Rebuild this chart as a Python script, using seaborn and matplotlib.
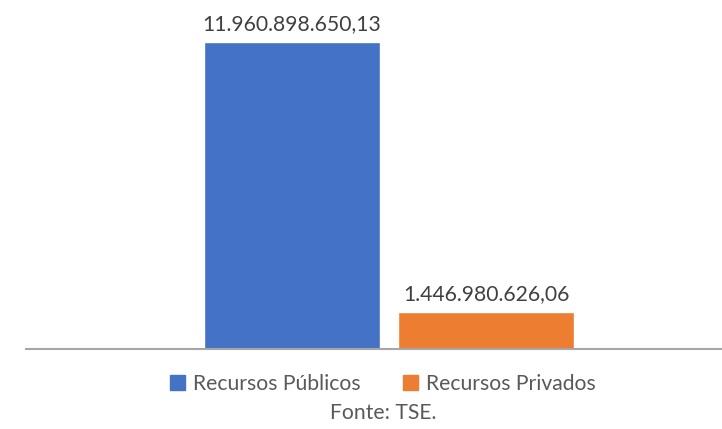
import matplotlib
matplotlib.use("Agg")
import matplotlib.pyplot as plt
from matplotlib.patches import Patch
import seaborn as sns
import pandas as pd

series = ["Recursos Públicos", "Recursos Privados"]
values = [11960898650.13, 1446980626.06]
colors = ["#4472C4", "#ED7D31"]
source = "Fonte: TSE."

def fmt_br(v):
    s = f"{v:,.2f}"
    return s.replace(",", "X").replace(".", ",").replace("X", ".")

sns.set_theme(style="white")
plt.rcParams['font.family'] = ['Lato', 'DejaVu Sans']

W, H = 722, 429
fig = plt.figure(figsize=(W/100, H/100), dpi=100)
ax_left, ax_right = 26, 722
ax_bottom, ax_top = 349, 20
ax = fig.add_axes([ax_left/W, 1 - ax_bottom/H, (ax_right-ax_left)/W, (ax_bottom-ax_top)/H])

df = pd.DataFrame({"serie": series, "valor": values})
sns.barplot(data=df, x="serie", y="valor", hue="serie", palette=colors,
            dodge=False, width=0.907, legend=False, ax=ax, saturation=1)

ymax = values[0] * (ax_bottom - ax_top) / (ax_bottom - 42)
ax.set_ylim(0, ymax)
c0, c1 = 292, 486
unit = c1 - c0
ax.set_xlim(-(c0 - ax_left)/unit, (ax_right - c0)/unit)

for i, v in enumerate(values):
    ax.text(i, v + ymax*0.025, fmt_br(v), ha="center", va="bottom",
            fontsize=15.2, color="#404040")

for s in ["top", "right", "left"]:
    ax.spines[s].set_visible(False)
ax.spines["bottom"].set_color("#A6A6A6")
ax.spines["bottom"].set_linewidth(1.5)
ax.set_xticks([])
ax.set_yticks([])
ax.set_xlabel("")
ax.set_ylabel("")

handles = [Patch(facecolor=c, edgecolor=c) for c in colors]
fig.legend(handles, series, loc="center", bbox_to_anchor=(383/W, 1 - 384/H),
           ncol=2, frameon=False, fontsize=15.2, handlelength=0.7, handleheight=0.7,
           handletextpad=0.4, columnspacing=2.0, labelcolor="#595959")
fig.text(383/W, 1 - 413/H, source, ha="center", va="center", fontsize=15.2, color="#595959")

fig.savefig("out.png", dpi=100)
